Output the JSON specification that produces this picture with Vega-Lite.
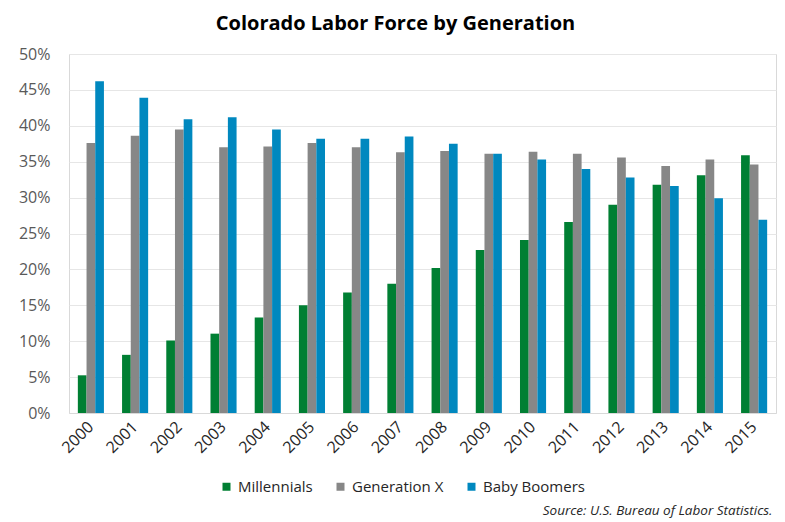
{
  "$schema": "https://vega.github.io/schema/vega-lite/v6.json",
  "width": 707,
  "height": 359,
  "autosize": "none",
  "padding": {"left": 69, "top": 54, "right": 9, "bottom": 109},
  "background": "white",
  "title": {
    "text": "Colorado Labor Force by Generation",
    "font": "Open Sans",
    "fontSize": 20,
    "fontWeight": "bold",
    "color": "#000000",
    "anchor": "middle",
    "dx": -27,
    "offset": 12
  },
  "config": {
    "view": {"stroke": "#D9D9D9", "strokeWidth": 1},
    "font": "Open Sans"
  },
  "data": {
    "values": [
      {"year": "2000", "generation": "Millennials", "value": 0.0525},
      {"year": "2000", "generation": "Generation X", "value": 0.376},
      {"year": "2000", "generation": "Baby Boomers", "value": 0.462},
      {"year": "2001", "generation": "Millennials", "value": 0.081},
      {"year": "2001", "generation": "Generation X", "value": 0.386},
      {"year": "2001", "generation": "Baby Boomers", "value": 0.439},
      {"year": "2002", "generation": "Millennials", "value": 0.101},
      {"year": "2002", "generation": "Generation X", "value": 0.395},
      {"year": "2002", "generation": "Baby Boomers", "value": 0.409},
      {"year": "2003", "generation": "Millennials", "value": 0.1105},
      {"year": "2003", "generation": "Generation X", "value": 0.370},
      {"year": "2003", "generation": "Baby Boomers", "value": 0.412},
      {"year": "2004", "generation": "Millennials", "value": 0.133},
      {"year": "2004", "generation": "Generation X", "value": 0.371},
      {"year": "2004", "generation": "Baby Boomers", "value": 0.395},
      {"year": "2005", "generation": "Millennials", "value": 0.150},
      {"year": "2005", "generation": "Generation X", "value": 0.376},
      {"year": "2005", "generation": "Baby Boomers", "value": 0.382},
      {"year": "2006", "generation": "Millennials", "value": 0.168},
      {"year": "2006", "generation": "Generation X", "value": 0.370},
      {"year": "2006", "generation": "Baby Boomers", "value": 0.382},
      {"year": "2007", "generation": "Millennials", "value": 0.180},
      {"year": "2007", "generation": "Generation X", "value": 0.363},
      {"year": "2007", "generation": "Baby Boomers", "value": 0.385},
      {"year": "2008", "generation": "Millennials", "value": 0.202},
      {"year": "2008", "generation": "Generation X", "value": 0.365},
      {"year": "2008", "generation": "Baby Boomers", "value": 0.375},
      {"year": "2009", "generation": "Millennials", "value": 0.227},
      {"year": "2009", "generation": "Generation X", "value": 0.361},
      {"year": "2009", "generation": "Baby Boomers", "value": 0.361},
      {"year": "2010", "generation": "Millennials", "value": 0.241},
      {"year": "2010", "generation": "Generation X", "value": 0.364},
      {"year": "2010", "generation": "Baby Boomers", "value": 0.353},
      {"year": "2011", "generation": "Millennials", "value": 0.266},
      {"year": "2011", "generation": "Generation X", "value": 0.361},
      {"year": "2011", "generation": "Baby Boomers", "value": 0.340},
      {"year": "2012", "generation": "Millennials", "value": 0.290},
      {"year": "2012", "generation": "Generation X", "value": 0.356},
      {"year": "2012", "generation": "Baby Boomers", "value": 0.328},
      {"year": "2013", "generation": "Millennials", "value": 0.318},
      {"year": "2013", "generation": "Generation X", "value": 0.344},
      {"year": "2013", "generation": "Baby Boomers", "value": 0.316},
      {"year": "2014", "generation": "Millennials", "value": 0.331},
      {"year": "2014", "generation": "Generation X", "value": 0.353},
      {"year": "2014", "generation": "Baby Boomers", "value": 0.299},
      {"year": "2015", "generation": "Millennials", "value": 0.359},
      {"year": "2015", "generation": "Generation X", "value": 0.346},
      {"year": "2015", "generation": "Baby Boomers", "value": 0.269}
    ]
  },
  "mark": {"type": "bar"},
  "encoding": {
    "x": {
      "field": "year",
      "type": "nominal",
      "scale": {"paddingInner": 0.41, "paddingOuter": 0.2},
      "axis": {
        "title": "Source: U.S. Bureau of Labor Statistics.",
        "titleFont": "Open Sans",
        "titleFontSize": 13.5,
        "titleFontStyle": "italic",
        "titleFontWeight": "normal",
        "titleColor": "#262626",
        "titleAnchor": "end",
        "titleAlign": "right",
        "titleBaseline": "middle",
        "titleX": 703,
        "titleY": 97,
        "labelAngle": 315,
        "labelAlign": "right",
        "labelBaseline": "middle",
        "labelFontSize": 16,
        "labelColor": "#262626",
        "labelPadding": 11,
        "domain": true,
        "domainColor": "#D9D9D9",
        "ticks": false
      }
    },
    "xOffset": {
      "field": "generation",
      "type": "nominal",
      "sort": ["Millennials", "Generation X", "Baby Boomers"]
    },
    "y": {
      "field": "value",
      "type": "quantitative",
      "scale": {"domain": [0, 0.5]},
      "axis": {
        "title": null,
        "format": ".0%",
        "values": [0, 0.05, 0.1, 0.15, 0.2, 0.25, 0.3, 0.35, 0.4, 0.45, 0.5],
        "labelFontSize": 16,
        "labelColor": "#595959",
        "labelPadding": 19,
        "domain": false,
        "ticks": false,
        "gridColor": "#E6E6E6",
        "gridWidth": 1
      }
    },
    "color": {
      "field": "generation",
      "type": "nominal",
      "sort": ["Millennials", "Generation X", "Baby Boomers"],
      "scale": {
        "domain": ["Millennials", "Generation X", "Baby Boomers"],
        "range": ["#007F33", "#878787", "#0088BF"]
      },
      "legend": {
        "title": null,
        "orient": "none",
        "direction": "horizontal",
        "legendX": 150,
        "legendY": 425,
        "symbolType": "square",
        "symbolSize": 64,
        "symbolStrokeWidth": 0,
        "labelFontSize": 15,
        "labelColor": "#262626",
        "labelOffset": 4,
        "columnPadding": 20
      }
    }
  }
}
